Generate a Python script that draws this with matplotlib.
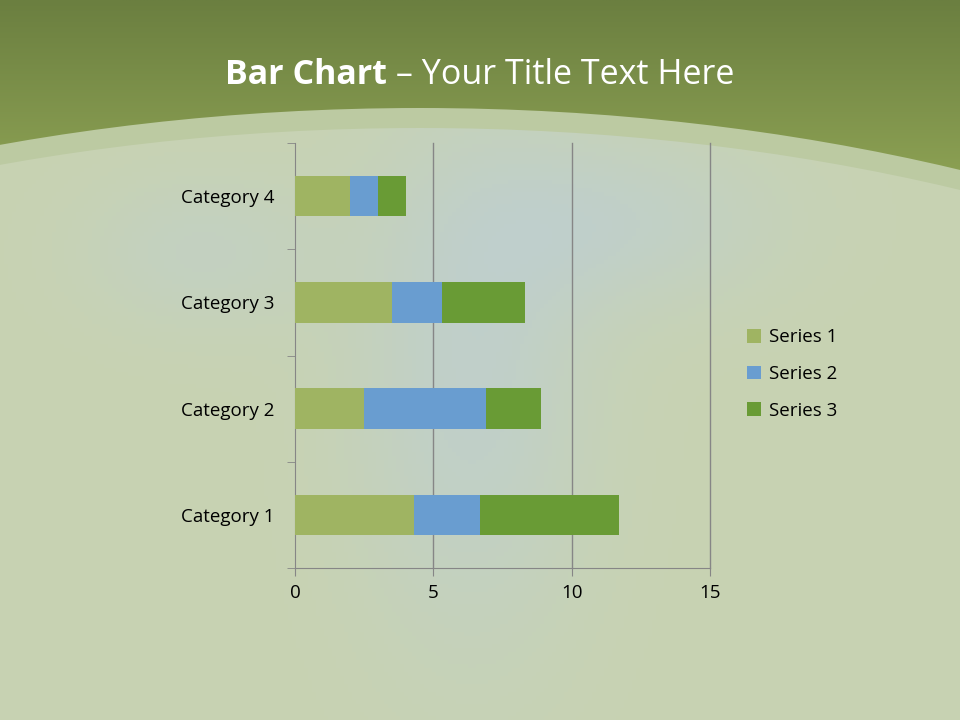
import numpy as np
import matplotlib.pyplot as plt
from matplotlib.patches import Ellipse, Patch

plt.rcParams['font.family'] = ['Open Sans', 'DejaVu Sans']

categories = ['Category 1', 'Category 2', 'Category 3', 'Category 4']
series_names = ['Series 1', 'Series 2', 'Series 3']
series_1 = [4.3, 2.5, 3.5, 2.0]
series_2 = [2.4, 4.4, 1.8, 1.0]
series_3 = [5.0, 2.0, 3.0, 1.0]
colors = ['#9fb462', '#699dd0', '#699b35']

fig = plt.figure(figsize=(9.6, 7.2), dpi=100)

# slide background
bg = fig.add_axes([0, 0, 1, 1], zorder=-5)
bg.set_xlim(0, 960)
bg.set_ylim(720, 0)
bg.axis('off')
top = np.array([107, 127, 64]) / 255
mid = np.array([155, 176, 92]) / 255
t = np.linspace(0, 1, 256)[:, None]
grad = top[None, None, :] * (1 - t[..., None]) + mid[None, None, :] * t[..., None]
grad = np.repeat(grad, 4, axis=1)
bg.imshow(grad, extent=(0, 960, 260, 0), aspect='auto', zorder=0)

band = Ellipse((420, 108 + 800), 2800, 1600, facecolor='#bccaa2', edgecolor='none', zorder=1)
bg.add_patch(band)
inner = Ellipse((420, 128 + 800), 2800, 1600, facecolor='none', edgecolor='none', zorder=2)
bg.add_patch(inner)

# pale field clipped to the inner arc
yy, xx = np.mgrid[0:720:4, 0:960:4]
base = np.array([200, 211, 178]) / 255
blue = np.array([186, 205, 220]) / 255
w = 0.55 * np.exp(-((xx - 470) / 120) ** 2) * np.exp(-((yy - 380) / 260) ** 2)
w += 0.45 * np.exp(-((xx - 620) / 160) ** 2) * np.exp(-((yy - 220) / 90) ** 2)
w += 0.35 * np.exp(-((xx - 200) / 120) ** 2) * np.exp(-((yy - 250) / 80) ** 2)
w = np.clip(w, 0, 1)[..., None]
field = base * (1 - w) + blue * w
im = bg.imshow(field, extent=(0, 960, 720, 0), aspect='auto', zorder=3)
im.set_clip_path(inner)

# title: bold part + regular part, centred as one line
r = fig.canvas.get_renderer()
a = bg.text(0, 75, 'Bar Chart', fontsize=24.5, fontweight='bold', color='white', va='center')
b = bg.text(0, 75, ' \u2013 Your Title Text Here', fontsize=24.5, color='white', va='center')
wa = a.get_window_extent(r).width
wb = b.get_window_extent(r).width
x0 = 480 - (wa + wb) / 2
a.set_x(x0)
b.set_x(x0 + wa)

# chart
ax = fig.add_axes([295 / 960, 1 - 568 / 720, 415 / 960, 425 / 720])
ax.set_facecolor('none')
y = np.arange(len(categories))
left = np.zeros(len(categories))
for vals, name, c in zip([series_1, series_2, series_3], series_names, colors):
    ax.barh(y, vals, left=left, height=0.38, color=c, label=name, zorder=3)
    left += np.array(vals)

ax.set_xlim(0, 15)
ax.set_ylim(-0.5, 3.5)
ax.set_xticks([0, 5, 10, 15])
ax.set_yticks(y)
ax.set_yticklabels(categories)
ax.set_yticks(np.arange(-0.5, 4, 1), minor=True)
ax.tick_params(axis='y', which='major', length=0, pad=15, labelsize=13.5)
ax.tick_params(axis='y', which='minor', length=5.5, color='#868686', direction='out')
ax.tick_params(axis='x', length=5.5, color='#868686', labelsize=13.5, pad=6)
for xv in [5, 10, 15]:
    ax.axvline(xv, color='#868686', linewidth=1, zorder=0, clip_on=False)
for s in ['top', 'right']:
    ax.spines[s].set_visible(False)
for s in ['left', 'bottom']:
    ax.spines[s].set_color('#868686')

handles = [Patch(facecolor=c, label=n) for c, n in zip(colors, series_names)]
fig.legend(handles=handles, loc='center left', bbox_to_anchor=(730 / 960, 1 - 374 / 720),
           frameon=False, fontsize=13.5, handlelength=0.75, handleheight=0.75,
           handletextpad=0.45, labelspacing=1.0)

fig.savefig('out.png', dpi=100)
